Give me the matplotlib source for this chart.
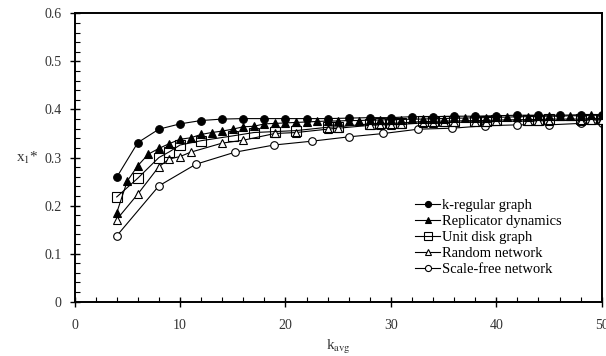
import matplotlib
matplotlib.use('Agg')
import matplotlib.pyplot as plt
from matplotlib.ticker import MultipleLocator

plt.rcParams['font.family'] = ['Liberation Serif', 'DejaVu Serif']
plt.rcParams['mathtext.fontset'] = 'stix'

# k-regular graph
k_reg = [4, 6, 8, 10, 12, 14, 16, 18, 20, 22, 24, 26, 28, 30, 32, 34, 36, 38,
         40, 42, 44, 46, 48, 50]
x_reg = [0.259, 0.331, 0.359, 0.370, 0.377, 0.380, 0.381, 0.381, 0.381, 0.381,
         0.381, 0.382, 0.383, 0.383, 0.385, 0.385, 0.386, 0.386, 0.387, 0.388,
         0.388, 0.388, 0.389, 0.389]

# replicator dynamics
k_rep = list(range(4, 51))
x_rep = [0.185, 0.251, 0.283, 0.307, 0.319, 0.329, 0.338, 0.341, 0.348, 0.352,
         0.355, 0.359, 0.364, 0.365, 0.370, 0.371, 0.372, 0.373, 0.374, 0.375,
         0.376, 0.376, 0.377, 0.377, 0.378, 0.378, 0.379, 0.379, 0.380, 0.380,
         0.381, 0.381, 0.382, 0.382, 0.383, 0.383, 0.384, 0.384, 0.385, 0.385,
         0.386, 0.386, 0.386, 0.387, 0.387, 0.388, 0.388]

# unit disk graph
k_udg = [4, 6, 8, 9, 10, 12, 15, 17, 19, 21, 24, 25, 28, 29, 30, 31, 33, 34,
         35, 36, 38, 39, 40, 43, 44, 45, 48, 49, 50]
x_udg = [0.218, 0.257, 0.300, 0.312, 0.326, 0.335, 0.345, 0.352, 0.354, 0.356,
         0.363, 0.364, 0.370, 0.371, 0.371, 0.372, 0.375, 0.375, 0.376, 0.376,
         0.377, 0.377, 0.378, 0.379, 0.379, 0.380, 0.380, 0.381, 0.381]

# random network
k_rnd = [4, 6, 8, 9, 10, 11, 14, 16, 19, 21, 24, 25, 28, 29, 30, 31, 33, 34,
         35, 36, 38, 39, 40, 43, 44, 45, 48, 49, 50]
x_rnd = [0.171, 0.224, 0.281, 0.297, 0.302, 0.311, 0.330, 0.336, 0.350, 0.352,
         0.359, 0.361, 0.367, 0.368, 0.368, 0.369, 0.372, 0.372, 0.373, 0.373,
         0.374, 0.374, 0.375, 0.376, 0.376, 0.377, 0.377, 0.378, 0.378]

# scale-free network
k_sf = [4, 8, 11.5, 15.2, 18.9, 22.5, 26, 29.3, 32.6, 35.8, 38.9, 42, 45, 48, 50]
x_sf = [0.137, 0.241, 0.286, 0.311, 0.326, 0.334, 0.343, 0.350, 0.359, 0.361,
        0.366, 0.368, 0.368, 0.371, 0.372]

yticks = [0, 0.1, 0.2, 0.3, 0.4, 0.5, 0.6]
ylabels = ['0', '0.1', '0.2', '0.3', '0.4', '0.5', '0.6']

fig = plt.figure(figsize=(6.06, 3.56), dpi=100)
ax = fig.add_axes([0.123, 0.1525, 0.870, 0.810])

lw = 0.8
ax.plot(k_sf, x_sf, '-o', color='k', mfc='white', mec='k', ms=5.5, mew=0.8,
        lw=lw, label='Scale-free network', zorder=2)
ax.plot(k_rnd, x_rnd, '-^', color='k', mfc='white', mec='k', ms=5.5, mew=0.8,
        lw=lw, label='Random network', zorder=3)
ax.plot(k_udg, x_udg, '-s', color='k', mfc='none', mec='k', ms=6.5, mew=0.8,
        lw=lw, label='Unit disk graph', zorder=4)
ax.plot(k_rep, x_rep, '-^', color='k', mfc='k', mec='k', ms=5.5, mew=0.8,
        lw=lw, label='Replicator dynamics', zorder=3)
ax.plot(k_reg, x_reg, '-o', color='k', mfc='k', mec='k', ms=5.5, mew=0.8,
        lw=lw, label='k-regular graph', zorder=5)

ax.set_xlim(0, 50)
ax.set_ylim(0, 0.6)
ax.xaxis.set_major_locator(MultipleLocator(10))
ax.xaxis.set_minor_locator(MultipleLocator(2))
ax.yaxis.set_minor_locator(MultipleLocator(0.02))
ax.set_yticks(yticks)
ax.set_yticklabels(ylabels)

ax.tick_params(which='major', direction='inout', length=7, width=1,
               labelsize=10, labelcolor='#333333', pad=6)
ax.tick_params(which='minor', direction='in', length=3.5, width=0.8)
ax.tick_params(axis='x', pad=9)
for s in ax.spines.values():
    s.set_linewidth(1.4)

ax.set_xlabel(r'k$_{\rm avg}$', fontsize=11, color='#333333', labelpad=4)
ax.set_ylabel(r'x$_{1}$*', fontsize=11, rotation=0, color='#333333',
              labelpad=12, va='center')

h, l = ax.get_legend_handles_labels()
ax.legend(h[::-1], l[::-1], loc='upper left', bbox_to_anchor=(0.646, 0.357),
          frameon=False, fontsize=10.5, handlelength=1.7, handletextpad=0.15,
          labelspacing=0.2, borderaxespad=0, borderpad=0, markerscale=0.8)

fig.savefig('out.png', dpi=100)
